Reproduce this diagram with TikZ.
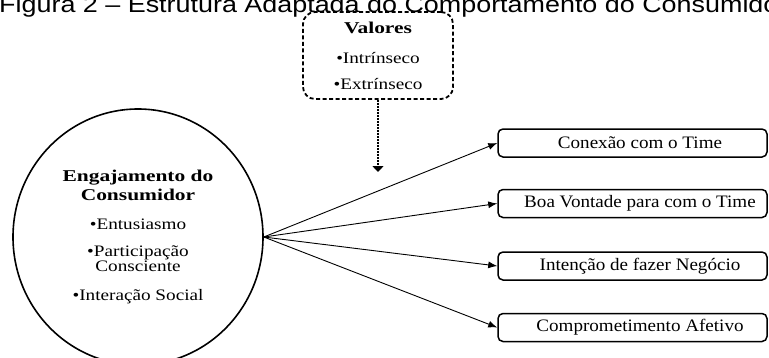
\documentclass[tikz,border=0pt]{standalone}
\usepackage{fontspec}
\setmainfont{Liberation Serif}
\newfontfamily\titlefont[FakeStretch=1.17]{Liberation Sans}
\newfontfamily\boxfont[FakeStretch=1.09]{Liberation Serif}
\newfontfamily\cirfont[FakeStretch=1.2]{Liberation Serif}
\newfontfamily\cirbold[FakeStretch=1.3]{Liberation Serif}
\newcommand{\bhead}[1]{{\cirbold\bfseries\fontsize{16.5}{13}\selectfont #1}}
\usetikzlibrary{shapes.geometric,arrows.meta}
\begin{document}
\begin{tikzpicture}[x=1pt,y=-1pt,
  outbox/.style={draw,line width=1.5pt,rounded corners=5pt,minimum width=269pt,minimum height=28pt,inner sep=0pt,font=\boxfont\fontsize{17.5}{18}\selectfont},
  valbox/.style={draw,line width=1.8pt,rounded corners=12pt,dash pattern=on 4pt off 2.5pt,minimum width=150pt,minimum height=87pt,inner sep=0pt,align=center,font=\cirfont\fontsize{16}{26}\selectfont},
  engell/.style={draw,ellipse,line width=1.6pt,minimum width=250pt,minimum height=256pt,inner sep=0pt,align=center,font=\cirfont\fontsize{16}{13}\selectfont},
  link/.style={line width=0.9pt,-{Latex[length=9pt,width=7pt]}},
  dlink/.style={line width=1.4pt,dash pattern=on 2pt off 1pt,-{Triangle[length=6pt,width=11pt]}}
]
\useasboundingbox (0,0) rectangle (769,357);
\clip (0,0) rectangle (769,357);
\node[anchor=base west,inner sep=0pt,font=\titlefont\fontsize{23}{26}\selectfont] (title) at (-1,12.3) {Figura 2 – Estrutura Adaptada do Comportamento do Consumidor};
\node[valbox] (val) at (378,55.5) {\bhead{Valores}\\[4pt]•Intrínseco\\•Extrínseco};
\node[engell] (eng) at (138,237) {\bhead{Engajamento do}\\[3pt]\bhead{Consumidor}\\[16pt]•Entusiasmo\\[14pt]•Participação\\Consciente\\[16pt]•Interação Social};
\node[outbox] (b1) at (632.5,143) {\hspace*{15pt}Conexão com o Time};
\node[outbox] (b2) at (632.5,203.5) {\hspace*{15pt}Boa Vontade para com o Time};
\node[outbox] (b3) at (632.5,266) {\hspace*{15pt}Intenção de fazer Negócio};
\node[outbox] (b4) at (632.5,327.5) {\hspace*{15pt}Comprometimento Afetivo};
\coordinate (dend) at (378,172);
\draw[dlink] (val.south) -- (dend);
\draw[link] (eng.east) -- (b1.west);
\draw[link] (eng.east) -- (b2.west);
\draw[link] (eng.east) -- (b3.west);
\draw[link] (eng.east) -- (b4.west);
\end{tikzpicture}
\end{document}
